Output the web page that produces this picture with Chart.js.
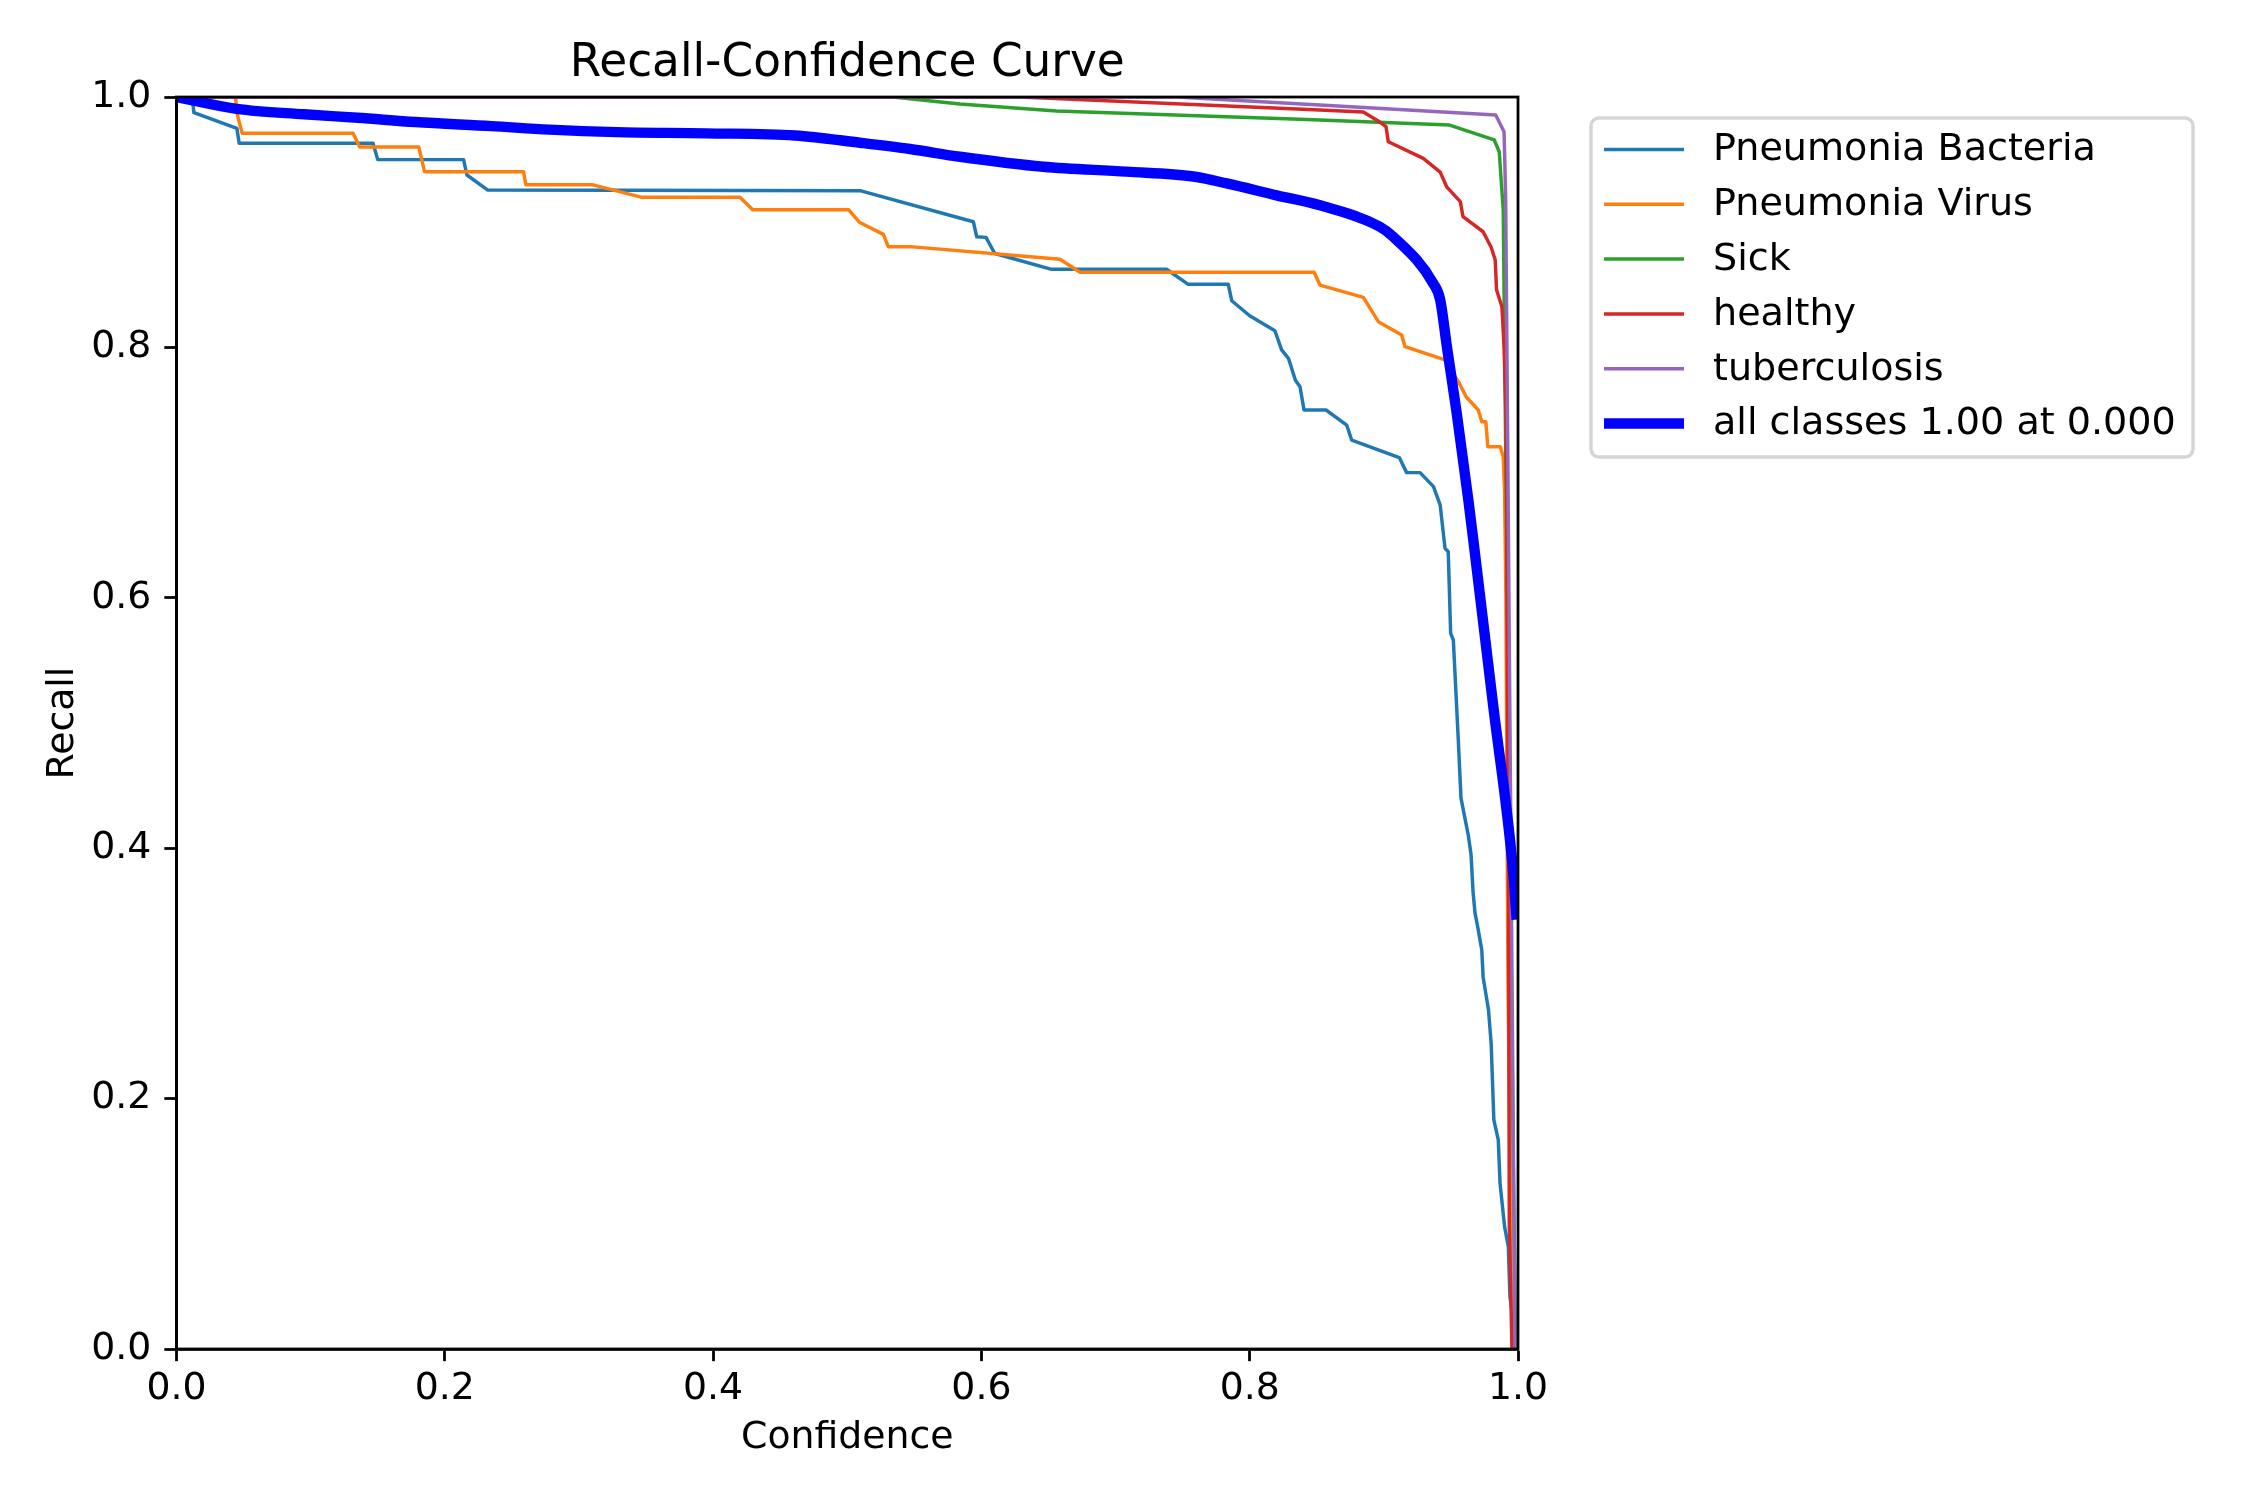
<!DOCTYPE html>
<html>
<head>
<meta charset="utf-8">
<script src="https://cdn.jsdelivr.net/npm/chart.js@4.4.1/dist/chart.umd.min.js"></script>
<style>
html, body { margin: 0; padding: 0; background: #fff; }
#wrap { width: 2250px; height: 1500px; position: relative; }
</style>
</head>
<body>
<div id="wrap"><canvas id="rc"></canvas></div>
<script>
// tick labels
const xTicks = [0, 0.2, 0.4, 0.6, 0.8, 1.0]
const yTicks = [0, 0.2, 0.4, 0.6, 0.8, 1.0]

const classNames = ['Pneumonia Bacteria', 'Pneumonia Virus', 'Sick', 'healthy', 'tuberculosis']
const classColors = ['#1f77b4', '#ff7f0e', '#2ca02c', '#d62728', '#9467bd']

// confidence -> recall
const bacteriaConf = [0, 0.0118, 0.013, 0.045, 0.0467, 0.1465, 0.150, 0.214, 0.2165, 0.232, 0.5095, 0.594, 0.5965, 0.6034, 0.610, 0.6524, 0.738, 0.7542, 0.784, 0.7866, 0.800, 0.8188, 0.8238, 0.829, 0.834, 0.8375, 0.8405, 0.8569, 0.8723, 0.876, 0.9115, 0.917, 0.927, 0.937, 0.942, 0.9456, 0.948, 0.9498, 0.9518, 0.9555, 0.9575, 0.963, 0.965, 0.9665, 0.968, 0.970, 0.973, 0.974, 0.978, 0.980, 0.982, 0.9853, 0.9866, 0.990, 0.9928, 0.994, 0.9965, 0.9978, 1.0]
const bacteriaRecall = [1.0, 0.998, 0.9875, 0.975, 0.963, 0.963, 0.950, 0.950, 0.9377, 0.9257, 0.9252, 0.9004, 0.8884, 0.8879, 0.875, 0.8624, 0.8624, 0.8504, 0.8504, 0.8373, 0.8253, 0.8133, 0.798, 0.791, 0.774, 0.7686, 0.750, 0.750, 0.738, 0.726, 0.712, 0.700, 0.700, 0.6888, 0.674, 0.6395, 0.6368, 0.5716, 0.5663, 0.4864, 0.44, 0.41, 0.395, 0.365, 0.348, 0.337, 0.3187, 0.297, 0.271, 0.244, 0.183, 0.167, 0.1325, 0.0977, 0.0817, 0.0418, 0.023, 0, 0]

const virusConf = [0, 0.044, 0.0451, 0.0467, 0.049, 0.1316, 0.1366, 0.1806, 0.1849, 0.2587, 0.2604, 0.3097, 0.3463, 0.420, 0.4295, 0.501, 0.509, 0.5269, 0.5306, 0.5468, 0.6586, 0.6735, 0.848, 0.8524, 0.8847, 0.8959, 0.9133, 0.9158, 0.9456, 0.9563, 0.9613, 0.9704, 0.973, 0.976, 0.9775, 0.9868, 0.989, 0.990, 0.991, 0.9925, 0.995, 1.0]
const virusRecall = [1.0, 1.0, 0.9875, 0.980, 0.971, 0.971, 0.960, 0.960, 0.9404, 0.9404, 0.930, 0.930, 0.920, 0.920, 0.910, 0.910, 0.900, 0.8903, 0.8805, 0.8805, 0.8704, 0.860, 0.860, 0.8498, 0.840, 0.8206, 0.810, 0.8006, 0.790, 0.7713, 0.7606, 0.750, 0.7407, 0.7407, 0.7207, 0.7207, 0.7127, 0.686, 0.6, 0.3, 0.05, 0]

const sickConf = [0, 0.534, 0.584, 0.656, 0.8375, 0.949, 0.9823, 0.986, 0.989, 0.9905, 0.992, 0.994, 0.9965, 0.998, 1.0]
const sickRecall = [1.0, 1.0, 0.9944, 0.9888, 0.9822, 0.9776, 0.9657, 0.9563, 0.9097, 0.75, 0.6, 0.4, 0.15, 0.02, 0]

const healthyConf = [0, 0.6287, 0.8524, 0.8847, 0.897, 0.9016, 0.9033, 0.9294, 0.942, 0.947, 0.957, 0.959, 0.974, 0.980, 0.983, 0.984, 0.988, 0.9896, 0.991, 0.9916, 0.992, 0.993, 0.9935, 0.9955, 1.0]
const healthyRecall = [1.0, 1.0, 0.9896, 0.988, 0.980, 0.9763, 0.9643, 0.951, 0.940, 0.928, 0.9164, 0.9044, 0.8924, 0.880, 0.870, 0.846, 0.8325, 0.8006, 0.748, 0.678, 0.55, 0.36, 0.1, 0, 0]

const tbConf = [0, 0.7456, 0.8524, 0.9834, 0.9896, 0.9908, 0.9925, 0.994, 0.9955, 0.997, 0.9978, 1.0]
const tbRecall = [1.0, 1.0, 0.9936, 0.9856, 0.9723, 0.92, 0.7, 0.5, 0.3, 0.1, 0, 0]

const allLabel = 'all classes 1.00 at 0.000'
const allConf = [0, 0.045, 0.095, 0.135, 0.178, 0.2347, 0.278, 0.328, 0.3945, 0.461, 0.5095, 0.5468, 0.584, 0.6462, 0.7083, 0.758, 0.7829, 0.820, 0.8524, 0.897, 0.907, 0.9369, 0.942, 0.947, 0.9543, 0.963, 0.9667, 0.9816, 0.9965, 0.999]
const allRecall = [1.0, 0.9905, 0.9862, 0.9835, 0.980, 0.9768, 0.974, 0.972, 0.971, 0.9693, 0.9635, 0.9585, 0.9523, 0.9443, 0.9404, 0.9365, 0.931, 0.9215, 0.9135, 0.8964, 0.8884, 0.851, 0.838, 0.8006, 0.7476, 0.678, 0.646, 0.513, 0.38, 0.343]

const classConf = [bacteriaConf, virusConf, sickConf, healthyConf, tbConf]
const classRecall = [bacteriaRecall, virusRecall, sickRecall, healthyRecall, tbRecall]

const PT = 250 / 72   // figure was 250 dpi
const FS = 37.8        // 10pt text as it measures in the picture
const FONT = 'DejaVu Sans'

function pts(xs, ys) {
    return xs.map((x, i) => ({x: x, y: ys[i]}))
}

var datasets = classNames.map((name, i) => ({
    label: name,
    data: pts(classConf[i], classRecall[i]),
    borderColor: classColors[i],
    borderWidth: 1 * PT,
    pointRadius: 0,
    borderJoinStyle: 'round',
    tension: 0,
    order: 10 - i
}))
datasets.push({
    label: allLabel,
    data: pts(allConf, allRecall),
    borderColor: '#0000ff',
    borderWidth: 3 * PT,
    pointRadius: 0,
    borderJoinStyle: 'round',
    cubicInterpolationMode: 'monotone',
    order: 0
})

// legend drawn by hand so it sits where matplotlib put it, with its frame
const legendBox = {
    id: 'legendBox',
    afterDraw(chart) {
        const ctx = chart.ctx
        const x0 = 1591, y0 = 118, x1 = 2193, y1 = 457, r = 8
        ctx.save()
        ctx.beginPath()
        ctx.moveTo(x0 + r, y0)
        ctx.arcTo(x1, y0, x1, y1, r)
        ctx.arcTo(x1, y1, x0, y1, r)
        ctx.arcTo(x0, y1, x0, y0, r)
        ctx.arcTo(x0, y0, x1, y0, r)
        ctx.closePath()
        ctx.fillStyle = 'rgba(255,255,255,0.8)'
        ctx.fill()
        ctx.strokeStyle = '#d6d6d6'
        ctx.lineWidth = 1 * PT
        ctx.stroke()

        ctx.font = (FS + 0.3) + 'px "' + FONT + '"'
        ctx.textBaseline = 'middle'
        ctx.textAlign = 'left'
        chart.data.datasets.forEach((ds, i) => {
            const y = 150.5 + i * 54.8
            ctx.beginPath()
            ctx.moveTo(1604, y - 1)
            ctx.lineTo(1684, y - 1)
            ctx.strokeStyle = ds.borderColor
            ctx.lineWidth = ds.borderWidth
            ctx.lineCap = 'butt'
            ctx.stroke()
            ctx.fillStyle = '#000'
            ctx.fillText(ds.label, 1713, y)
        })
        ctx.restore()
    }
}

// top and right spines (and redraw left/bottom over the lines)
const spines = {
    id: 'spines',
    afterDatasetsDraw(chart) {
        const a = chart.chartArea, ctx = chart.ctx
        ctx.save()
        ctx.strokeStyle = '#000'
        ctx.lineWidth = 0.8 * PT
        ctx.strokeRect(a.left, a.top, a.right - a.left, a.bottom - a.top)
        ctx.restore()
    }
}

const tickFont = {family: FONT, size: FS}

new Chart(document.getElementById('rc'), {
    type: 'line',
    data: {datasets: datasets},
    options: {
        responsive: true,
        maintainAspectRatio: false,
        devicePixelRatio: 1,
        animation: false,
        events: [],
        layout: {padding: {left: 0, right: 732, top: 0, bottom: 0}},
        plugins: {
            legend: {display: false},
            tooltip: {enabled: false},
            title: {
                display: true,
                text: 'Recall-Confidence Curve',
                fullSize: false,
                color: '#000',
                font: {family: FONT, size: FS * 1.2, weight: 'normal'},
                padding: {top: 37, bottom: 5.6}
            }
        },
        scales: {
            x: {
                type: 'linear',
                min: 0,
                max: 1,
                afterBuildTicks: (s) => { s.ticks = xTicks.map(v => ({value: v})) },
                afterFit: (s) => { s.height = 151 },
                ticks: {
                    color: '#000',
                    font: tickFont,
                    padding: 5,
                    maxRotation: 0,
                    callback: (v) => v.toFixed(1)
                },
                grid: {
                    drawOnChartArea: false,
                    drawTicks: true,
                    tickLength: 3.5 * PT,
                    tickWidth: 0.8 * PT,
                    tickColor: '#000'
                },
                border: {display: true, color: '#000', width: 0.8 * PT},
                title: {
                    display: true,
                    text: 'Confidence',
                    color: '#000',
                    font: tickFont,
                    padding: {top: 0, bottom: 39}
                }
            },
            y: {
                type: 'linear',
                min: 0,
                max: 1,
                afterBuildTicks: (s) => { s.ticks = yTicks.map(v => ({value: v})) },
                afterFit: (s) => { s.width = 176.5 },
                ticks: {
                    color: '#000',
                    font: tickFont,
                    padding: 13,
                    callback: (v) => v.toFixed(1)
                },
                grid: {
                    drawOnChartArea: false,
                    drawTicks: true,
                    tickLength: 3.5 * PT,
                    tickWidth: 0.8 * PT,
                    tickColor: '#000'
                },
                border: {display: true, color: '#000', width: 0.8 * PT},
                title: {
                    display: true,
                    text: 'Recall',
                    color: '#000',
                    font: tickFont,
                    padding: {top: 40, bottom: 0}
                }
            }
        }
    },
    plugins: [spines, legendBox]
})
</script>
</body>
</html>
